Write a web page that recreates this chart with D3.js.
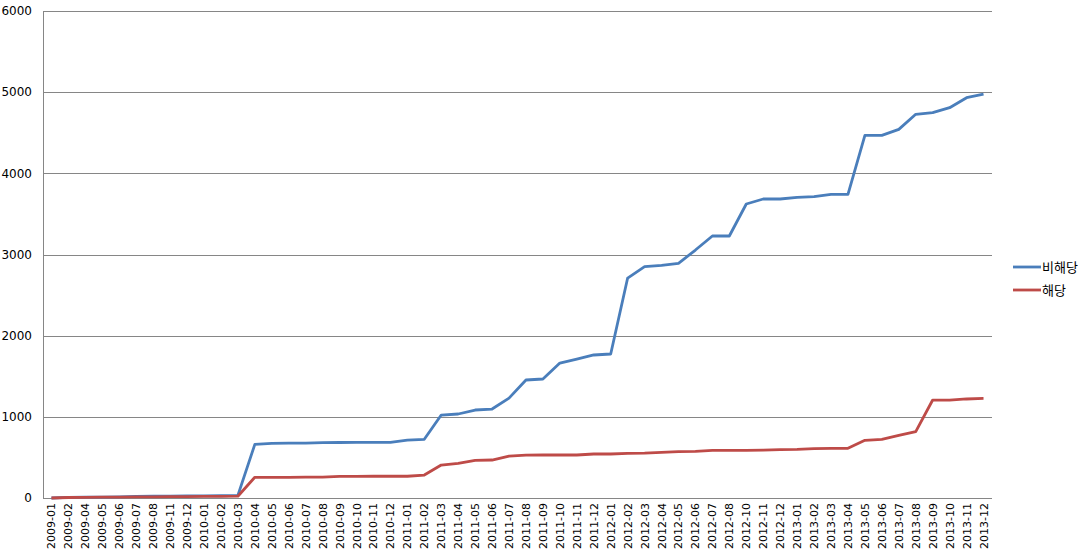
<!DOCTYPE html>
<html>
<head>
<meta charset="utf-8">
<script src="https://cdn.jsdelivr.net/npm/d3@7"></script>
<style>
  body { margin: 0; background: #fff; }
  svg { display: block; font-family: "DejaVu Sans", Verdana, sans-serif; }
</style>
</head>
<body>
<div class="chart"></div>
<script>
var months = [
  "2009-01", "2009-02", "2009-04", "2009-05", "2009-06", "2009-07", "2009-08", "2009-11", "2009-12",
  "2010-01", "2010-02", "2010-03", "2010-04", "2010-05", "2010-06", "2010-07", "2010-08", "2010-09",
  "2010-10", "2010-11", "2010-12", "2011-01", "2011-02", "2011-03", "2011-04", "2011-05", "2011-06",
  "2011-07", "2011-08", "2011-09", "2011-10", "2011-11", "2011-12", "2012-01", "2012-02", "2012-03",
  "2012-04", "2012-05", "2012-06", "2012-07", "2012-08", "2012-10", "2012-11", "2012-12", "2013-01",
  "2013-02", "2013-03", "2013-04", "2013-05", "2013-06", "2013-07", "2013-08", "2013-09", "2013-10",
  "2013-11", "2013-12"
];

// 비해당
var nonApplicable = [
  0, 8, 10, 12, 14, 20, 22, 24, 25,
  27, 28, 32, 661, 673, 675, 676, 682, 684,
  685, 686, 686, 714, 723, 1022, 1035, 1084, 1096,
  1230, 1454, 1466, 1663, 1712, 1762, 1774, 2710, 2850,
  2867, 2891, 3055, 3228, 3228, 3622, 3684, 3684, 3704,
  3712, 3741, 3741, 4468, 4468, 4542, 4727, 4747, 4809,
  4932, 4977
];

// 해당
var applicable = [
  0, 6, 8, 10, 11, 14, 15, 17, 18,
  19, 20, 22, 255, 255, 255, 256, 257, 267,
  267, 268, 268, 268, 283, 406, 427, 464, 468,
  515, 528, 530, 530, 530, 542, 542, 550, 553,
  563, 571, 574, 587, 587, 587, 590, 595, 599,
  608, 612, 612, 711, 723, 772, 817, 1207, 1207,
  1220, 1228
];

var yTicks = [0, 1000, 2000, 3000, 4000, 5000, 6000];

var seriesNames = ["비해당", "해당"];
var seriesColors = ["#4a7ebb", "#be4b48"];

var width = 1087, height = 555;
var plotLeft = 43, plotRight = 992, plotTop = 11, plotBottom = 498;

var svg = d3.select(".chart").append("svg")
  .attr("width", width)
  .attr("height", height);

var x = d3.scalePoint()
  .domain(months)
  .range([plotLeft, plotRight])
  .padding(0.5);

var y = d3.scaleLinear()
  .domain([0, 6000])
  .range([plotBottom, plotTop]);

// gridlines
svg.append("g")
  .selectAll("line")
  .data(yTicks)
  .enter().append("line")
  .attr("x1", plotLeft)
  .attr("x2", plotRight)
  .attr("y1", function(d) { return Math.round(y(d)) + 0.5; })
  .attr("y2", function(d) { return Math.round(y(d)) + 0.5; })
  .attr("stroke", "#868686")
  .attr("stroke-width", 1);

// y axis line
svg.append("line")
  .attr("x1", plotLeft + 0.5).attr("x2", plotLeft + 0.5)
  .attr("y1", plotTop).attr("y2", plotBottom + 1)
  .attr("stroke", "#868686");

// y labels
svg.append("g")
  .selectAll("text")
  .data(yTicks)
  .enter().append("text")
  .attr("x", 32)
  .attr("y", function(d) { return y(d); })
  .attr("dy", "0.35em")
  .attr("text-anchor", "end")
  .attr("font-size", 12)
  .attr("fill", "#000")
  .text(function(d) { return d; });

// x labels
svg.append("g")
  .selectAll("text")
  .data(months)
  .enter().append("text")
  .attr("transform", function(d) {
    return "translate(" + (x(d) + 4) + ",503) rotate(-90)";
  })
  .attr("text-anchor", "end")
  .attr("font-size", 11)
  .attr("fill", "#000")
  .text(function(d) { return d; });

var line = d3.line()
  .x(function(d, i) { return x(months[i]); })
  .y(function(d) { return y(d); });

[nonApplicable, applicable].forEach(function(vals, k) {
  svg.append("path")
    .datum(vals)
    .attr("d", line)
    .attr("fill", "none")
    .attr("stroke", seriesColors[k])
    .attr("stroke-width", 2.8)
    .attr("stroke-linejoin", "round");
});

// legend
var legend = svg.append("g")
  .selectAll("g")
  .data(seriesNames)
  .enter().append("g")
  .attr("transform", function(d, i) { return "translate(1013," + (267 + i * 23) + ")"; });

legend.append("line")
  .attr("x1", 0).attr("x2", 28)
  .attr("stroke", function(d, i) { return seriesColors[i]; })
  .attr("stroke-width", 2.8);

legend.append("text")
  .attr("x", 29)
  .attr("dy", "0.35em")
  .attr("font-size", 13)
  .attr("font-family", "'Noto Sans CJK KR', sans-serif")
  .text(function(d) { return d; });
</script>
</body>
</html>
